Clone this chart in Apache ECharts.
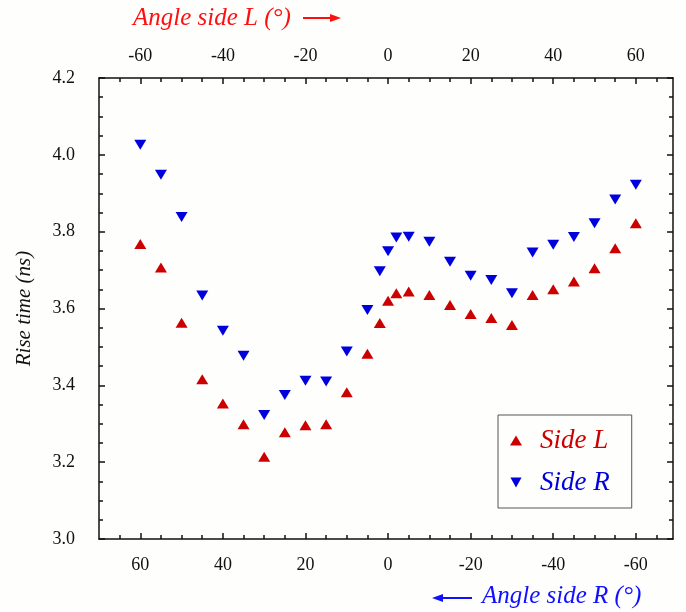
<!DOCTYPE html>
<html><head><meta charset="utf-8">
<script src="https://cdn.jsdelivr.net/npm/echarts@6/dist/echarts.min.js"></script>
<style>html,body{margin:0;padding:0;background:#fefefc}#c{width:686px;height:612px}</style>
</head><body><div id="c"></div><script>
const anglesL = [-60,-55,-50,-45,-40,-35,-30,-25,-20,-15,-10,-5,-2,0,2,5,10,15,20,25,30,35,40,45,50,55,60];
const anglesR = [60,55,50,45,40,35,30,25,20,15,10,5,2,0,-2,-5,-10,-15,-20,-25,-30,-35,-40,-45,-50,-55,-60];
const sideL = [3.768,3.707,3.563,3.416,3.353,3.299,3.214,3.278,3.296,3.299,3.382,3.482,3.562,3.620,3.640,3.644,3.635,3.609,3.586,3.575,3.557,3.635,3.650,3.670,3.705,3.757,3.822];
const sideR = [4.026,3.948,3.838,3.634,3.542,3.477,3.323,3.375,3.412,3.410,3.488,3.596,3.697,3.749,3.785,3.787,3.774,3.722,3.685,3.674,3.640,3.746,3.766,3.786,3.822,3.884,3.922];
const majorX = [-60,-40,-20,0,20,40,60];
const minorX = [-65,-55,-50,-45,-35,-30,-25,-15,-10,-5,5,10,15,25,30,35,45,50,55,65];
const yMin = 3.0, yMax = 4.2, yStep = 0.2;

const FONT = 'Liberation Serif';
const RED = '#cc0000', BLUE = '#0000dd';
const lineStyle = {color:'#111', width:1.5};

function xAxisBase(pos, inverse, min, max){
  return {type:'value', position:pos, inverse:inverse, min:min, max:max, gridIndex:0,
    splitLine:{show:false}};
}
const chart = echarts.init(document.getElementById('c'), null, {renderer:'canvas'});
chart.setOption({
  backgroundColor:'#fefefc',
  animation:false,
  grid:{left:99, top:78, width:574, height:461, containLabel:false},
  xAxis:[
    Object.assign(xAxisBase('top', false, -70, 69), {
      axisLine:{show:true, onZero:false, lineStyle:lineStyle},
      axisTick:{show:true, inside:true, length:6, customValues:majorX, lineStyle:lineStyle},
      axisLabel:{show:true, customValues:majorX, margin:13, fontFamily:FONT, fontSize:18, color:'#111'}
    }),
    Object.assign(xAxisBase('bottom', true, -69, 70), {
      axisLine:{show:true, onZero:false, lineStyle:lineStyle},
      axisTick:{show:true, inside:true, length:6, customValues:majorX, lineStyle:lineStyle},
      axisLabel:{show:true, customValues:majorX, margin:17, fontFamily:FONT, fontSize:18, color:'#111'}
    }),
    Object.assign(xAxisBase('top', false, -70, 69), {
      axisLine:{show:false, onZero:false},
      axisTick:{show:true, inside:true, length:4, customValues:minorX, lineStyle:lineStyle},
      axisLabel:{show:false}
    }),
    Object.assign(xAxisBase('bottom', true, -69, 70), {
      axisLine:{show:false, onZero:false},
      axisTick:{show:true, inside:true, length:4, customValues:minorX, lineStyle:lineStyle},
      axisLabel:{show:false}
    })
  ],
  yAxis:[
    {type:'value', position:'left', min:yMin, max:yMax, interval:yStep,
      axisLine:{show:true, onZero:false, lineStyle:lineStyle},
      axisTick:{show:true, inside:true, length:6, lineStyle:lineStyle},
      minorTick:{show:true, splitNumber:4, length:4, lineStyle:lineStyle},
      splitLine:{show:false}, minorSplitLine:{show:false},
      axisLabel:{margin:24, fontFamily:FONT, fontSize:18, color:'#111', formatter:v=>v.toFixed(1)},
      name:'Rise time (ns)', nameLocation:'middle', nameGap:64,
      nameTextStyle:{fontFamily:FONT, fontStyle:'italic', fontSize:21, color:'#111'}
    },
    {type:'value', position:'right', min:yMin, max:yMax, interval:yStep,
      axisLine:{show:true, onZero:false, lineStyle:lineStyle},
      axisTick:{show:true, inside:true, length:6, lineStyle:lineStyle},
      minorTick:{show:true, splitNumber:4, length:4, lineStyle:lineStyle},
      splitLine:{show:false}, axisLabel:{show:false}
    }
  ],
  legend:{
    orient:'vertical', left:498, top:415,
    padding:[12,22,12,12], itemGap:15, itemWidth:12, itemHeight:10,
    borderColor:'#555', borderWidth:1, borderRadius:0,
    textStyle:{fontFamily:FONT, fontStyle:'italic', fontSize:27, padding:[0,0,0,13]},
    data:[
      {name:'Side L', icon:'triangle', textStyle:{color:RED}},
      {name:'Side R', icon:'path://M0,0L10,0L5,9Z', textStyle:{color:BLUE}}
    ]
  },
  graphic:[
    {type:'text', left:133, top:6, style:{text:'Angle side L (°)', fill:'#ff1010', font:'italic 25px "Liberation Serif"'}},
    {type:'line', shape:{x1:303, y1:18, x2:332, y2:18}, style:{stroke:'#ff1010', lineWidth:2}},
    {type:'polygon', shape:{points:[[330,14],[341,18],[330,22]]}, style:{fill:'#ff1010'}},
    {type:'text', left:482, top:584, style:{text:'Angle side R (°)', fill:'#1010ff', font:'italic 25px "Liberation Serif"'}},
    {type:'line', shape:{x1:442, y1:598, x2:472, y2:598}, style:{stroke:'#1010ff', lineWidth:2}},
    {type:'polygon', shape:{points:[[443,594],[432,598],[443,602]]}, style:{fill:'#1010ff'}}
  ],
  series:[
    {name:'Side L', type:'scatter', xAxisIndex:0, yAxisIndex:0,
      symbol:'triangle', symbolSize:[12,10], itemStyle:{color:RED, opacity:1},
      data:anglesL.map((a,i)=>[a, sideL[i]])},
    {name:'Side R', type:'scatter', xAxisIndex:1, yAxisIndex:0,
      symbol:'path://M0,0L10,0L5,9Z', symbolSize:[12,10], itemStyle:{color:BLUE, opacity:1},
      data:anglesR.map((a,i)=>[a, sideR[i]])}
  ]
});
</script></body></html>
